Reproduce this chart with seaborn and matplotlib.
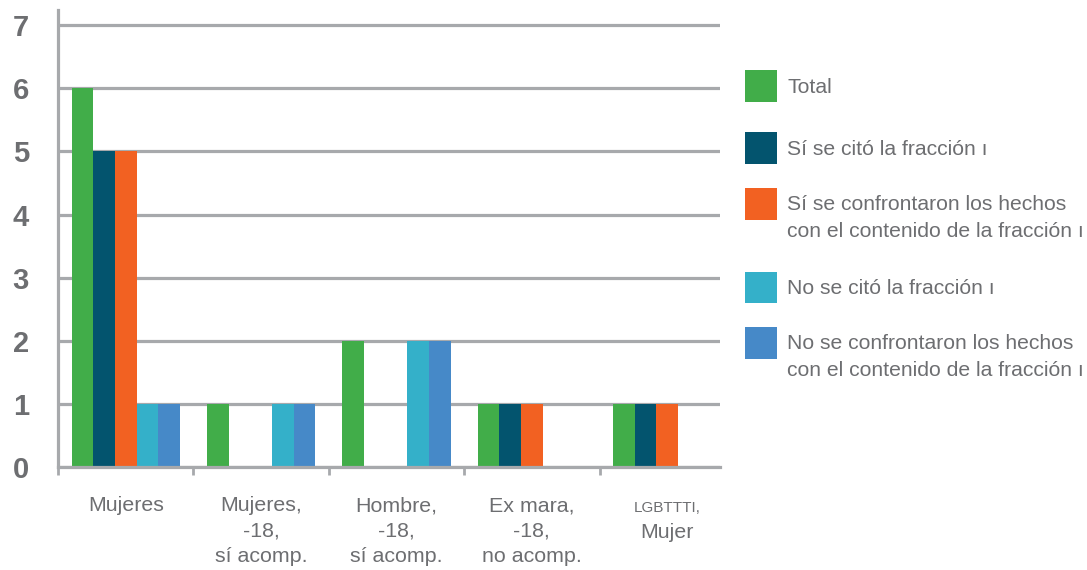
import matplotlib
matplotlib.use("Agg")
import matplotlib.pyplot as plt
import seaborn as sns
import pandas as pd
from matplotlib.legend_handler import HandlerPatch
from matplotlib.patches import Rectangle

# ---- data ----
categories = ["Mujeres", "Mujeres,\n-18,\nsí acomp.", "Hombre,\n-18,\nsí acomp.",
              "Ex mara,\n-18,\nno acomp.", "LGBTTTI,\nMujer"]
series_names = ["Total",
                "Sí se citó la fracción ı",
                "Sí se confrontaron los hechos\ncon el contenido de la fracción ı",
                "No se citó la fracción ı",
                "No se confrontaron los hechos\ncon el contenido de la fracción ı"]
total = [6, 1, 2, 1, 1]
si_cito = [5, 0, 0, 1, 1]
si_confronto = [5, 0, 0, 1, 1]
no_cito = [1, 1, 2, 0, 0]
no_confronto = [1, 1, 2, 0, 0]
yticks = [0, 1, 2, 3, 4, 5, 6, 7]
colors = ["#41AD49", "#03546E", "#F26122", "#34B0C9", "#4689C8"]

series_values = [total, si_cito, si_confronto, no_cito, no_confronto]
rows = []
for name, vals in zip(series_names, series_values):
    for cat, v in zip(categories, vals):
        rows.append({"cat": cat, "serie": name, "val": v})
df = pd.DataFrame(rows)

GRAY = "#A7A9AC"
TXT = "#6D6E71"
FS = 15.4
LFS = 15.2
sns.set_theme(style="white")
plt.rcParams["font.family"] = ["Liberation Sans", "DejaVu Sans"]

fig = plt.figure(figsize=(10.87, 5.70), dpi=100)
ax = fig.add_axes([58 / 1087, 103 / 570, (720 - 58) / 1087, 457 / 570])

sns.barplot(data=df, x="cat", y="val", hue="serie", order=categories,
            hue_order=series_names, palette=colors, saturation=1, width=0.8,
            linewidth=0, ax=ax)

ax.set_xlim(-0.5, 4.39)
ax.set_ylim(0, 7.24)
ax.set_yticks(yticks)
ax.set_xlabel("")
ax.set_ylabel("")
ax.set_axisbelow(True)
ax.yaxis.grid(True, color=GRAY, linewidth=2.3)
ax.xaxis.grid(False)
for s in ["top", "right"]:
    ax.spines[s].set_visible(False)
for s in ["left", "bottom"]:
    ax.spines[s].set_color(GRAY)
    ax.spines[s].set_linewidth(2.3)

ax.tick_params(axis="y", length=10.5, width=2.3, color=GRAY, pad=10.5,
               labelsize=21, labelcolor=TXT)
for t in ax.get_yticklabels():
    t.set_fontweight("bold")

# category labels
ax.set_xticks(range(len(categories)))
ax.set_xticks([i - 0.5 for i in range(len(categories))], minor=True)
ax.tick_params(axis="x", which="major", length=0, pad=21, labelsize=FS,
               labelcolor=TXT)
ax.tick_params(axis="x", which="minor", length=5.5, width=2, color=GRAY,
               direction="out", bottom=True)
ax.set_xticklabels([c if not c.startswith("LGBTTTI") else "" for c in categories],
                   linespacing=1.42)
# last label: first word in small caps style
first, second = categories[-1].split("\n")
ax.annotate(first, xy=(4, 0), xycoords=("data", "axes fraction"),
            xytext=(0, -32.5), textcoords="offset points", ha="center",
            va="baseline", fontsize=11, color=TXT)
ax.annotate(second, xy=(4, 0), xycoords=("data", "axes fraction"),
            xytext=(0, -51), textcoords="offset points", ha="center",
            va="baseline", fontsize=FS, color=TXT)

# legend
handles, labels = ax.get_legend_handles_labels()
ax.legend_.remove()


def make_patch_func(shift):
    def f(legend, orig_handle, xdescent, ydescent, width, height, fontsize):
        return Rectangle((-xdescent, -ydescent + shift), width, height)
    return f


hmap = {}
for h, l in zip(handles, labels):
    shift = 10.5 if "\n" in l else 0.0
    hmap[h] = HandlerPatch(patch_func=make_patch_func(shift))

leg = fig.legend(handles, labels, loc="upper left",
                 bbox_to_anchor=(745 / 1087, 1 - 70 / 570), frameon=False,
                 borderpad=0, borderaxespad=0, fontsize=LFS,
                 handlelength=1.52, handleheight=1.94, handletextpad=0.47,
                 labelspacing=1.45, handler_map=hmap)
for t in leg.get_texts():
    t.set_color(TXT)
    t.set_linespacing(1.55)

fig.savefig("out.png", dpi=100)
